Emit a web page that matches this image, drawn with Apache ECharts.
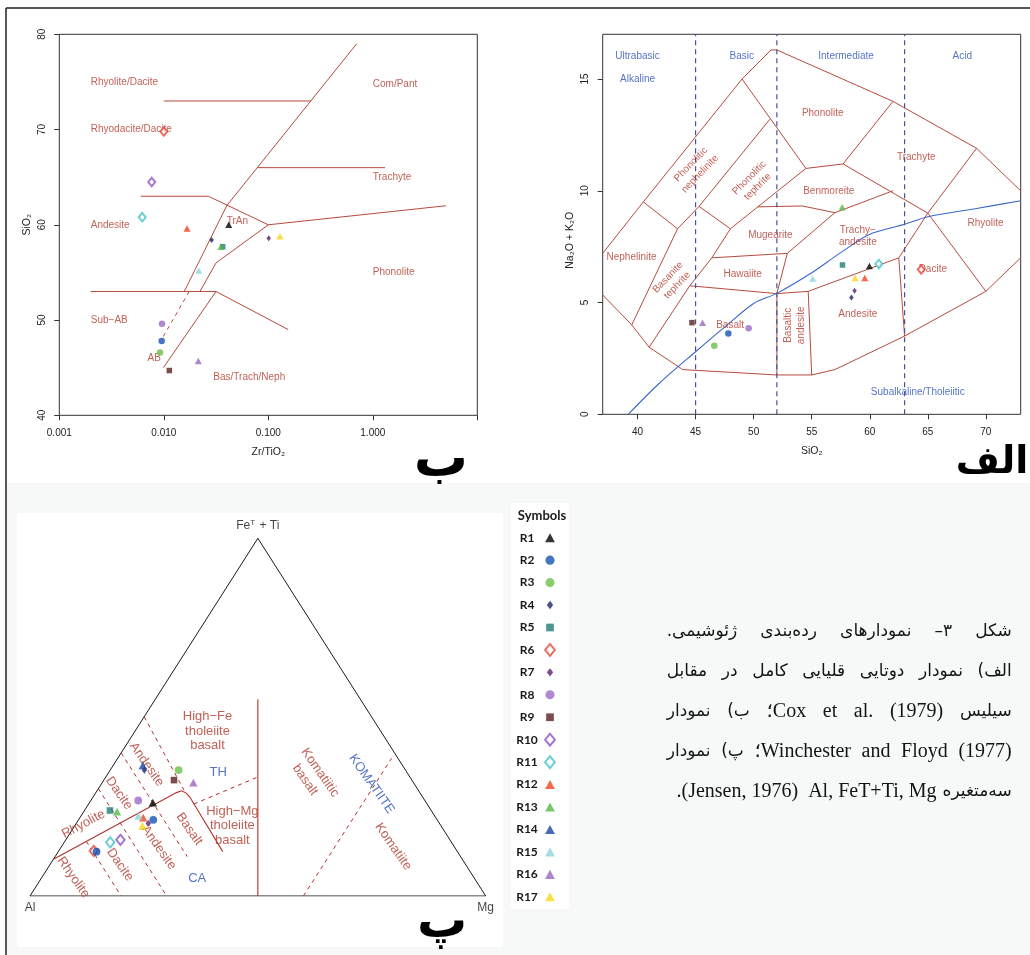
<!DOCTYPE html>
<html>
<head>
<meta charset="utf-8">
<script src="https://cdn.jsdelivr.net/npm/echarts@6/dist/echarts.min.js"></script>
<style>
  html, body { margin: 0; padding: 0; background: #ffffff; }
  #chart { width: 1030px; height: 955px; }
</style>
</head>
<body>
<div id="chart"></div>
<script>
// ---------------- samples ----------------
const sampleNames = ['R1','R2','R3','R4','R5','R6','R7','R8','R9','R10','R11','R12','R13','R14','R15','R16','R17'];
const sampleColors = ['#000000','#1552b0','#6cc04a','#1d2467','#1f7d77','#e8473a','#5b1f6f','#9c6bc6','#5a1f1b','#8f52c0','#45c3cb','#f2421f','#57b846','#1647a0','#8fd4db','#9a67c2','#f8d716'];
const sampleSymbols = ['triangle','circle','circle','diamond','rect','emptyDiamond','diamond','circle','rect','emptyDiamond','emptyDiamond','triangle','triangle','triangle','triangle','triangle','triangle'];

// Winchester & Floyd (1977): Zr/TiO2 vs SiO2
const wfZrTiO2 = [0.0418, 0.00955, 0.0092, 0.0287, 0.0366, 0.0100, 0.101, 0.00962, 0.0113, 0.00766, 0.00622, 0.0167, 0.0352, null, 0.0216, 0.0214, 0.129];
const wfSiO2   = [60.0, 47.8, 46.6, 58.4, 57.7, 69.8, 58.6, 49.6, 44.7, 64.5, 60.8, 59.6, 57.7, null, 55.2, 45.7, 58.8];

// Cox et al. (1979): SiO2 vs Na2O+K2O
const tasSiO2   = [59.97, 47.82, 46.61, 58.42, 57.65, 64.43, 58.69, 49.57, 44.69, null, 60.78, 59.57, 57.62, null, 55.09, 45.60, 58.74];
const tasAlkali = [6.63, 3.62, 3.07, 5.22, 6.68, 6.48, 5.53, 3.85, 4.10, null, 6.72, 6.10, 9.26, null, 6.08, 4.10, 6.10];

// Jensen (1976) cation plot: Al, FeT+Ti, Mg (%)
const jensenSample = ['R1','R2','R2','R3','R4','R5','R6','R7','R8','R9','R10','R11','R12','R13','R14','R15','R16','R17'];
const jensenAl     = [60.0, 62.3, 79.2, 49.8, 57.3, 70.5, 79.7, 63.9, 62.9, 52.2, 72.3, 74.9, 64.2, 69.1, 57.0, 65.0, 48.3, 65.5];
const jensenFeTi   = [26.1, 21.3, 12.4, 35.2, 35.2, 23.9, 12.6, 20.3, 26.7, 32.4, 15.7, 15.0, 21.9, 23.6, 36.5, 22.4, 31.7, 19.6];
const jensenMg     = [13.9, 16.4,  8.4, 15.0,  7.5,  5.6,  7.7, 15.8, 10.4, 15.4, 12.0, 10.1, 13.9,  7.3,  6.5, 12.6, 20.0, 14.9];

// ---------------- field boundaries ----------------
const wfBoundaries = [
  [[0.01, 73], [0.255, 73]],
  [[0.0157, 53], [0.040, 62], [0.70, 79]],
  [[0.006, 63], [0.0267, 63], [0.1, 60], [5.0, 62]],
  [[0.0222, 53], [0.0316, 56], [0.1, 60]],
  [[0.079, 66], [1.31, 66]],
  [[0.002, 53], [0.0316, 53], [0.155, 49]],
  [[0.0316, 53], [0.0099, 45]]
];
const wfDashed = [[[0.0175, 53], [0.0098, 48.2]]];

const tasBoundaries = [
  [[37, 7.2], [40.5, 9.5], [49, 15], [51.5, 16.3], [52, 16.3], [62, 14], [69.2, 11.9], [73, 10.0]],
  [[37, 5.34], [39.5, 4.0], [41, 3.0], [43.9, 2.0], [52, 1.76], [55, 1.76], [57, 2.0], [63, 3.5], [70, 5.5], [73, 7.0]],
  [[40.5, 9.5], [43.45, 8.3], [45.3, 9.3], [51.4, 13.2]],
  [[39.5, 4.0], [43.45, 8.3]],
  [[45.3, 9.3], [48, 8.3], [54.5, 11.0]],
  [[49, 15], [54.5, 11.0], [57.7, 11.2], [62, 14]],
  [[57.7, 11.2], [65, 9.0]],
  [[50.35, 9.28], [54.2, 9.32], [57, 9.02], [62, 10.0]],
  [[41, 3.0], [44.5, 5.75], [46.4, 7.0], [48, 8.3]],
  [[44.5, 5.75], [52, 5.4], [54.7, 5.5]],
  [[46.4, 7.0], [52.9, 7.2]],
  [[52, 5.4], [52.9, 7.2], [57, 9.02]],
  [[52, 1.76], [52, 5.4]],
  [[55, 1.76], [54.7, 5.5]],
  [[54.7, 5.5], [62.5, 7.0], [65, 9.0]],
  [[62.5, 7.0], [63, 3.5]],
  [[65, 9.0], [69.2, 11.9]],
  [[65, 9.0], [70, 5.5]]
];
const tasSilicaClasses = [45, 52, 63];
const tasAlkalineDivide = [[39.2, 0], [41.9, 1.4], [45, 2.8], [47.5, 3.9], [50, 4.96], [52, 5.41], [55, 6.33], [57.4, 7.2], [60, 8.05], [63, 8.5], [65, 8.84], [69.2, 9.21], [73, 9.55]];

// Jensen boundaries as [Al, FeT+Ti, Mg]
const jensenFrame = [[100, 0, 0], [0, 100, 0], [0, 0, 100], [100, 0, 0]];
const jensenSolid = [
  [[22.5, 55, 22.5], [50, 0, 50]],
  [[89.7, 10.3, 0], [53.4, 28.9, 17.7], [52.0, 29.4, 18.6], [51.3, 28.7, 20.0], [51.1, 27.6, 21.3], [51.5, 12.4, 36.1]]
];
const jensenDashed = [
  [[70, 30, 0], [70, 0, 30]],
  [[60, 40, 0], [60, 11, 29]],
  [[80, 15.3, 4.7], [80, 0, 20]],
  [[49.9, 50.1, 0], [51.4, 29.6, 19.0]],
  [[51.2, 25.7, 23.1], [33.3, 33.3, 33.4]],
  [[40, 0, 60], [1.4, 38.5, 60.1]]
];

// ---------------- field names ----------------
const wfFieldNames = [
  ['Rhyolite/Dacite', 0.002, 75.0], ['Rhyodacite/Dacite', 0.002, 70.0], ['Andesite', 0.002, 60.0],
  ['Sub\u2212AB', 0.002, 50.0], ['AB', 0.0070, 46.0], ['Bas/Trach/Neph', 0.0298, 44.0], ['TrAn', 0.040, 60.4],
  ['Com/Pant', 1.0, 74.8], ['Trachyte', 1.0, 65.0], ['Phonolite', 1.0, 55.0]
];
const tasFieldNames = [
  ['Phonolite', 55.95, 13.49, 0], ['Trachyte', 64.0, 11.52, 0], ['Benmoreite', 56.47, 9.99, 0],
  ['Mugearite', 51.44, 8.02, 0], ['Trachy\u2212\nandesite', 58.97, 7.97, 0], ['Rhyolite', 69.97, 8.54, 0],
  ['Dacite', 65.43, 6.48, 0], ['Hawaiite', 49.05, 6.27, 0], ['Nephelinite', 39.48, 7.02, 0],
  ['Andesite', 58.97, 4.49, 0], ['Basalt', 47.97, 3.98, 0], ['Basaltic', 52.96, 3.98, 90], ['andesite', 54.09, 3.98, 90],
  ['Phonolitic', 44.60, 11.18, 46], ['nephelinite', 45.38, 10.75, 46], ['Phonolitic', 49.63, 10.58, 45],
  ['tephrite', 50.34, 10.18, 45], ['Basanite', 42.62, 6.13, 46], ['tephrite', 43.42, 5.77, 46]
];
const tasSeriesNames = [
  ['Ultrabasic', 40.0, 16.0], ['Alkaline', 40.0, 15.0], ['Basic', 48.97, 16.0], ['Intermediate', 57.96, 16.0],
  ['Acid', 67.97, 16.0], ['Subalkaline/Tholeiitic', 64.14, 0.98]
];
const jensenFieldNames = [
  ['High\u2212Fe\ntholeiite\nbasalt', [38.0, 46.1, 15.9], 0], ['High\u2212Mg\ntholeiite\nbasalt', [45.8, 19.6, 34.6], 0],
  ['Komatiitic', [19.1, 34.5, 46.4], -55], ['basalt', [23.4, 32.4, 44.1], -55], ['Komatiite', [13.4, 13.8, 72.8], -55],
  ['Andesite', [56.0, 36.8, 7.2], -55], ['Dacite', [66.1, 28.7, 5.2], -55], ['Rhyolite', [78.2, 20.1, 1.7], 28],
  ['Basalt', [55.7, 18.7, 25.6], -55], ['Andesite', [65.0, 13.5, 21.5], -55], ['Dacite', [75.9, 8.7, 15.4], -55],
  ['Rhyolite', [87.9, 5.2, 6.9], -55]
];
const jensenSeriesNames = [['TH', [41.4, 34.6, 24.0], 0], ['CA', [60.8, 4.9, 34.2], 0], ['KOMATIITE', [9.4, 31.3, 59.3], -55]];

// caption, words in display order (left to right)
const captionLines = [
  ['ژئوشیمی.', 'رده‌بندی', 'نمودارهای', '۳–', 'شکل'],
  ['مقابل', 'در', 'کامل', 'قلیایی', 'دوتایی', 'نمودار', 'الف)'],
  ['نمودار', 'ب)', '؛Cox', 'et', 'al.', '(1979)', 'سیلیس'],
  ['نمودار', 'پ)', '؛Winchester', 'and', 'Floyd', '(1977)'],
  ['.(Jensen, 1976)  Al, FeT+Ti, Mg', 'سه‌متغیره']
];

// ---------------- styling helpers ----------------
const FIELD_RED = '#b2382c';
const LINE_RED = '#b64a3d';
const JENSEN_RED = '#b3302a';
const NAME_BLUE = '#2b50b8';
const AXIS_TXT = '#222222';

const baseSymbolSize = { triangle: [7, 6.5], circle: [6.5, 6.5], rect: [5.5, 5.5], diamond: [4.5, 6], emptyDiamond: [7, 8.5] };
function symbolSize(sym, k) { const s = baseSymbolSize[sym]; return [s[0] * k, s[1] * k]; }
function itemStyleFor(i) {
  const c = sampleColors[i];
  return sampleSymbols[i].indexOf('empty') === 0 ? { color: c, borderColor: c, borderWidth: 1.2 } : { color: c, borderWidth: 0 };
}
function tern(p) { const s = p[0] + p[1] + p[2]; const f = p[1] / s, m = p[2] / s; return [m + f / 2, f]; }

function labelSeries(xi, yi, items, color, fontSize, lineHeight) {
  return {
    type: 'scatter', xAxisIndex: xi, yAxisIndex: yi, symbolSize: 0, silent: true, z: 4,
    label: { show: true, position: 'inside', color: color, fontSize: fontSize, lineHeight: lineHeight, formatter: p => p.name },
    data: items.map(it => ({ name: it.text, value: it.value, label: { align: it.align || 'center', verticalAlign: 'middle', rotate: it.rotate || 0 } }))
  };
}
function linesSeries(xi, yi, polylines, color, width, type, z) {
  return {
    type: 'lines', coordinateSystem: 'cartesian2d', xAxisIndex: xi, yAxisIndex: yi, polyline: true, silent: true, z: z || 3,
    lineStyle: { color: color, width: width, type: type || 'solid', opacity: 1 },
    data: polylines.map(pl => ({ coords: pl }))
  };
}

function rAxisLabel(extra) {
  return Object.assign({ fontSize: 10, color: AXIS_TXT, fontFamily: 'Liberation Sans' }, extra);
}
const rTick = { show: true, inside: false, length: 5, lineStyle: { color: '#333', width: 1 } };

// ---------------- series ----------------
const series = [];

// panel boundaries
series.push(linesSeries(0, 0, wfBoundaries, LINE_RED, 1));
series.push(linesSeries(0, 0, wfDashed, LINE_RED, 1, [4, 4]));
series.push(linesSeries(1, 1, tasBoundaries, LINE_RED, 1));
series.push(linesSeries(1, 1, tasSilicaClasses.map(v => [[v, 0], [v, 17]]), '#4a4c9e', 1.2, [5, 4]));
series.push({
  type: 'line', xAxisIndex: 1, yAxisIndex: 1, data: tasAlkalineDivide, smooth: 0.3, showSymbol: false, silent: true, z: 3,
  lineStyle: { color: '#3a68c8', width: 1.1 }
});
series.push(linesSeries(2, 2, [jensenFrame.map(tern)], '#1a1a1a', 1, 'solid', 2));
series.push(linesSeries(2, 2, jensenSolid.map(pl => pl.map(tern)), JENSEN_RED, 1.1));
series.push(linesSeries(2, 2, jensenDashed.map(pl => pl.map(tern)), JENSEN_RED, 1, [4, 4]));

// field and series names
series.push(labelSeries(0, 0, wfFieldNames.map(d => ({ text: d[0], value: [d[1], d[2]], align: 'left' })), FIELD_RED, 10));
series.push(labelSeries(1, 1, tasFieldNames.map(d => ({ text: d[0], value: [d[1], d[2]], rotate: d[3] })), FIELD_RED, 10, 12));
series.push(labelSeries(1, 1, tasSeriesNames.map(d => ({ text: d[0], value: [d[1], d[2]] })), NAME_BLUE, 10));
series.push(labelSeries(2, 2, jensenFieldNames.map(d => ({ text: d[0], value: tern(d[1]), rotate: d[2] })), FIELD_RED, 13, 14.5));
series.push(labelSeries(2, 2, jensenSeriesNames.map(d => ({ text: d[0], value: tern(d[1]), rotate: d[2] })), NAME_BLUE, 13));

// apex names of the ternary plot
series.push({
  type: 'scatter', xAxisIndex: 2, yAxisIndex: 2, symbolSize: 0, silent: true, z: 4,
  label: {
    show: true, color: '#111', fontSize: 12, formatter: p => p.name,
    rich: { b: { fontSize: 12, color: '#111' }, s: { fontSize: 8, color: '#111', verticalAlign: 'top', padding: [0, 1, 6, 0] } }
  },
  data: [
    { name: '{b|Fe}{s|T}{b| + Ti}', value: tern([0, 100, 0]), label: { position: 'top', distance: 6 } },
    { name: 'Al', value: tern([100, 0, 0]), label: { position: 'bottom', distance: 6 } },
    { name: 'Mg', value: tern([0, 0, 100]), label: { position: 'bottom', distance: 6 } }
  ]
});

// sample points
sampleNames.forEach((name, i) => {
  const sym = sampleSymbols[i];
  if (wfZrTiO2[i] != null) {
    series.push({ type: 'scatter', name, xAxisIndex: 0, yAxisIndex: 0, symbol: sym, symbolSize: symbolSize(sym, 1), itemStyle: itemStyleFor(i), data: [[wfZrTiO2[i], wfSiO2[i]]], z: 5 });
  }
  if (tasSiO2[i] != null) {
    series.push({ type: 'scatter', name, xAxisIndex: 1, yAxisIndex: 1, symbol: sym, symbolSize: symbolSize(sym, 1), itemStyle: itemStyleFor(i), data: [[tasSiO2[i], tasAlkali[i]]], z: 5 });
  }
  const pts = [];
  jensenSample.forEach((s, j) => { if (s === name) pts.push(tern([jensenAl[j], jensenFeTi[j], jensenMg[j]])); });
  if (pts.length) {
    series.push({ type: 'scatter', name, xAxisIndex: 2, yAxisIndex: 2, symbol: sym, symbolSize: symbolSize(sym, 1.2), itemStyle: itemStyleFor(i), data: pts, z: name === 'R2' ? 6 : 5 });
  }
});

// symbol key
series.push({
  type: 'scatter', xAxisIndex: 3, yAxisIndex: 3, silent: true, z: 5,
  data: sampleNames.map((n, i) => ({ value: [0.5, n], symbol: sampleSymbols[i], symbolSize: symbolSize(sampleSymbols[i], 1.4), itemStyle: itemStyleFor(i) }))
});

// ---------------- caption layout ----------------
const measureCtx = document.createElement('canvas').getContext('2d');
function captionToken(tok) {
  const latin = /[A-Za-z0-9]/.test(tok);
  return latin
    ? { text: tok, fontSize: 20, fontFamily: '"Liberation Serif", "DejaVu Sans"' }
    : { text: '\u202B' + tok + '\u202C', fontSize: 17, fontFamily: '"DejaVu Sans"' };
}
function tokenWidth(t) { measureCtx.font = t.fontSize + 'px ' + t.fontFamily; return measureCtx.measureText(t.text).width; }

const captionLeft = 666.7, captionRight = 1011.7;
const captionY = [632, 672, 712, 752, 792];
const captionGraphics = [];
captionLines.forEach((words, li) => {
  const toks = words.map(captionToken);
  const widths = toks.map(tokenWidth);
  const total = widths.reduce((a, b) => a + b, 0);
  let xs = [];
  if (li < captionLines.length - 1) {
    const gap = (captionRight - captionLeft - total) / (toks.length - 1);
    let x = captionLeft;
    toks.forEach((t, k) => { xs.push(x); x += widths[k] + gap; });
  } else {
    const gap = 6;
    let x = captionRight;
    for (let k = toks.length - 1; k >= 0; k--) { x -= widths[k]; xs[k] = x; x -= gap; }
  }
  toks.forEach((t, k) => {
    captionGraphics.push({
      type: 'text', x: xs[k], y: captionY[li], silent: true,
      style: { text: t.text, fontSize: t.fontSize, fontFamily: t.fontFamily, fill: '#141414',
        align: 'left', textAlign: 'left', verticalAlign: 'middle', textVerticalAlign: 'middle' }
    });
  });
});

function bigLetter(txt, x, y, size) {
  return { type: 'text', x: x, y: y, silent: true,
    style: { text: txt, fontSize: size, fontWeight: 'bold', fontFamily: '"DejaVu Sans"', fill: '#000',
      align: 'center', textAlign: 'center', verticalAlign: 'middle', textVerticalAlign: 'middle' } };
}

const graphic = [
  { type: 'rect', z: -10, silent: true, shape: { x: 6, y: 483, width: 1024, height: 472 }, style: { fill: '#f7f9f9' } },
  { type: 'rect', z: -9, silent: true, shape: { x: 17, y: 513, width: 486, height: 434 }, style: { fill: '#ffffff' } },
  { type: 'rect', z: -9, silent: true, shape: { x: 511, y: 503, width: 58, height: 406 }, style: { fill: '#ffffff' } },
  { type: 'line', silent: true, shape: { x1: 6, y1: 8, x2: 1030, y2: 8 }, style: { stroke: '#222', lineWidth: 1.5 } },
  { type: 'line', silent: true, shape: { x1: 6, y1: 8, x2: 6, y2: 955 }, style: { stroke: '#222', lineWidth: 1.5 } },
  { type: 'text', x: 542, y: 516, silent: true,
    style: { text: 'Symbols', fontSize: 13, fontWeight: 'bold', fontFamily: 'Lato', fill: '#1a1a1a',
      align: 'center', textAlign: 'center', verticalAlign: 'middle', textVerticalAlign: 'middle' } },
  bigLetter('ب', 441, 462, 54),
  bigLetter('الف', 992, 463, 38),
  bigLetter('پ', 442, 924, 50)
].concat(captionGraphics);

// ---------------- chart ----------------
const option = {
  animation: false,
  backgroundColor: '#ffffff',
  textStyle: { fontFamily: 'Liberation Sans' },
  graphic: graphic,
  grid: [
    { left: 59.3, top: 34.3, width: 418, height: 381, show: true, borderColor: '#333', borderWidth: 1, backgroundColor: 'transparent', outerBoundsMode: 'none' },
    { left: 602.7, top: 34.3, width: 418, height: 380, show: true, borderColor: '#333', borderWidth: 1, backgroundColor: 'transparent', outerBoundsMode: 'none' },
    { left: 30, top: 538.3, width: 455.7, height: 357.7, show: false, outerBoundsMode: 'none' },
    { left: 540, top: 526.5, width: 20, height: 381.5, show: false, outerBoundsMode: 'none' }
  ],
  xAxis: [
    { gridIndex: 0, type: 'log', logBase: 10, min: 0.001, max: 10,
      axisLine: { show: false }, axisTick: rTick, splitLine: { show: false },
      axisLabel: rAxisLabel({ margin: 13, formatter: v => (v > 5 ? '' : v.toFixed(3)) }),
      name: 'Zr/TiO₂', nameLocation: 'middle', nameGap: 31, nameTextStyle: { fontSize: 10.5, color: AXIS_TXT } },
    { gridIndex: 1, type: 'value', min: 37, max: 73,
      axisLine: { show: false }, splitLine: { show: false },
      axisTick: Object.assign({ customValues: [40, 45, 50, 55, 60, 65, 70] }, rTick),
      axisLabel: rAxisLabel({ margin: 13, customValues: [40, 45, 50, 55, 60, 65, 70] }),
      name: 'SiO₂', nameLocation: 'middle', nameGap: 31, nameTextStyle: { fontSize: 10.5, color: AXIS_TXT } },
    { gridIndex: 2, type: 'value', min: 0, max: 1, show: false },
    { gridIndex: 3, type: 'value', min: 0, max: 1, show: false }
  ],
  yAxis: [
    { gridIndex: 0, type: 'value', min: 40, max: 80, interval: 10,
      axisLine: { show: false }, axisTick: rTick, splitLine: { show: false },
      axisLabel: rAxisLabel({ margin: 12, rotate: 90 }),
      name: 'SiO₂', nameLocation: 'middle', nameGap: 27, nameRotate: 90, nameTextStyle: { fontSize: 10.5, color: AXIS_TXT } },
    { gridIndex: 1, type: 'value', min: 0, max: 17,
      axisLine: { show: false }, splitLine: { show: false },
      axisTick: Object.assign({ customValues: [0, 5, 10, 15] }, rTick),
      axisLabel: rAxisLabel({ margin: 12, rotate: 90, customValues: [0, 5, 10, 15] }),
      name: 'Na₂O + K₂O', nameLocation: 'middle', nameGap: 27, nameRotate: 90,
      nameTextStyle: { fontSize: 10.5, color: AXIS_TXT, padding: [0, 32, 0, 0] } },
    { gridIndex: 2, type: 'value', min: 0, max: 1, show: false },
    { gridIndex: 3, type: 'category', data: sampleNames, inverse: true,
      axisLine: { show: false }, axisTick: { show: false }, splitLine: { show: false },
      axisLabel: { margin: 13, align: 'center', fontFamily: 'Lato', fontWeight: 'bold', fontSize: 12, color: '#1a1a1a' } }
  ],
  series: series
};

const chart = echarts.init(document.getElementById('chart'), null, { renderer: 'canvas', width: 1030, height: 955 });
chart.setOption(option);
</script>
</body>
</html>
